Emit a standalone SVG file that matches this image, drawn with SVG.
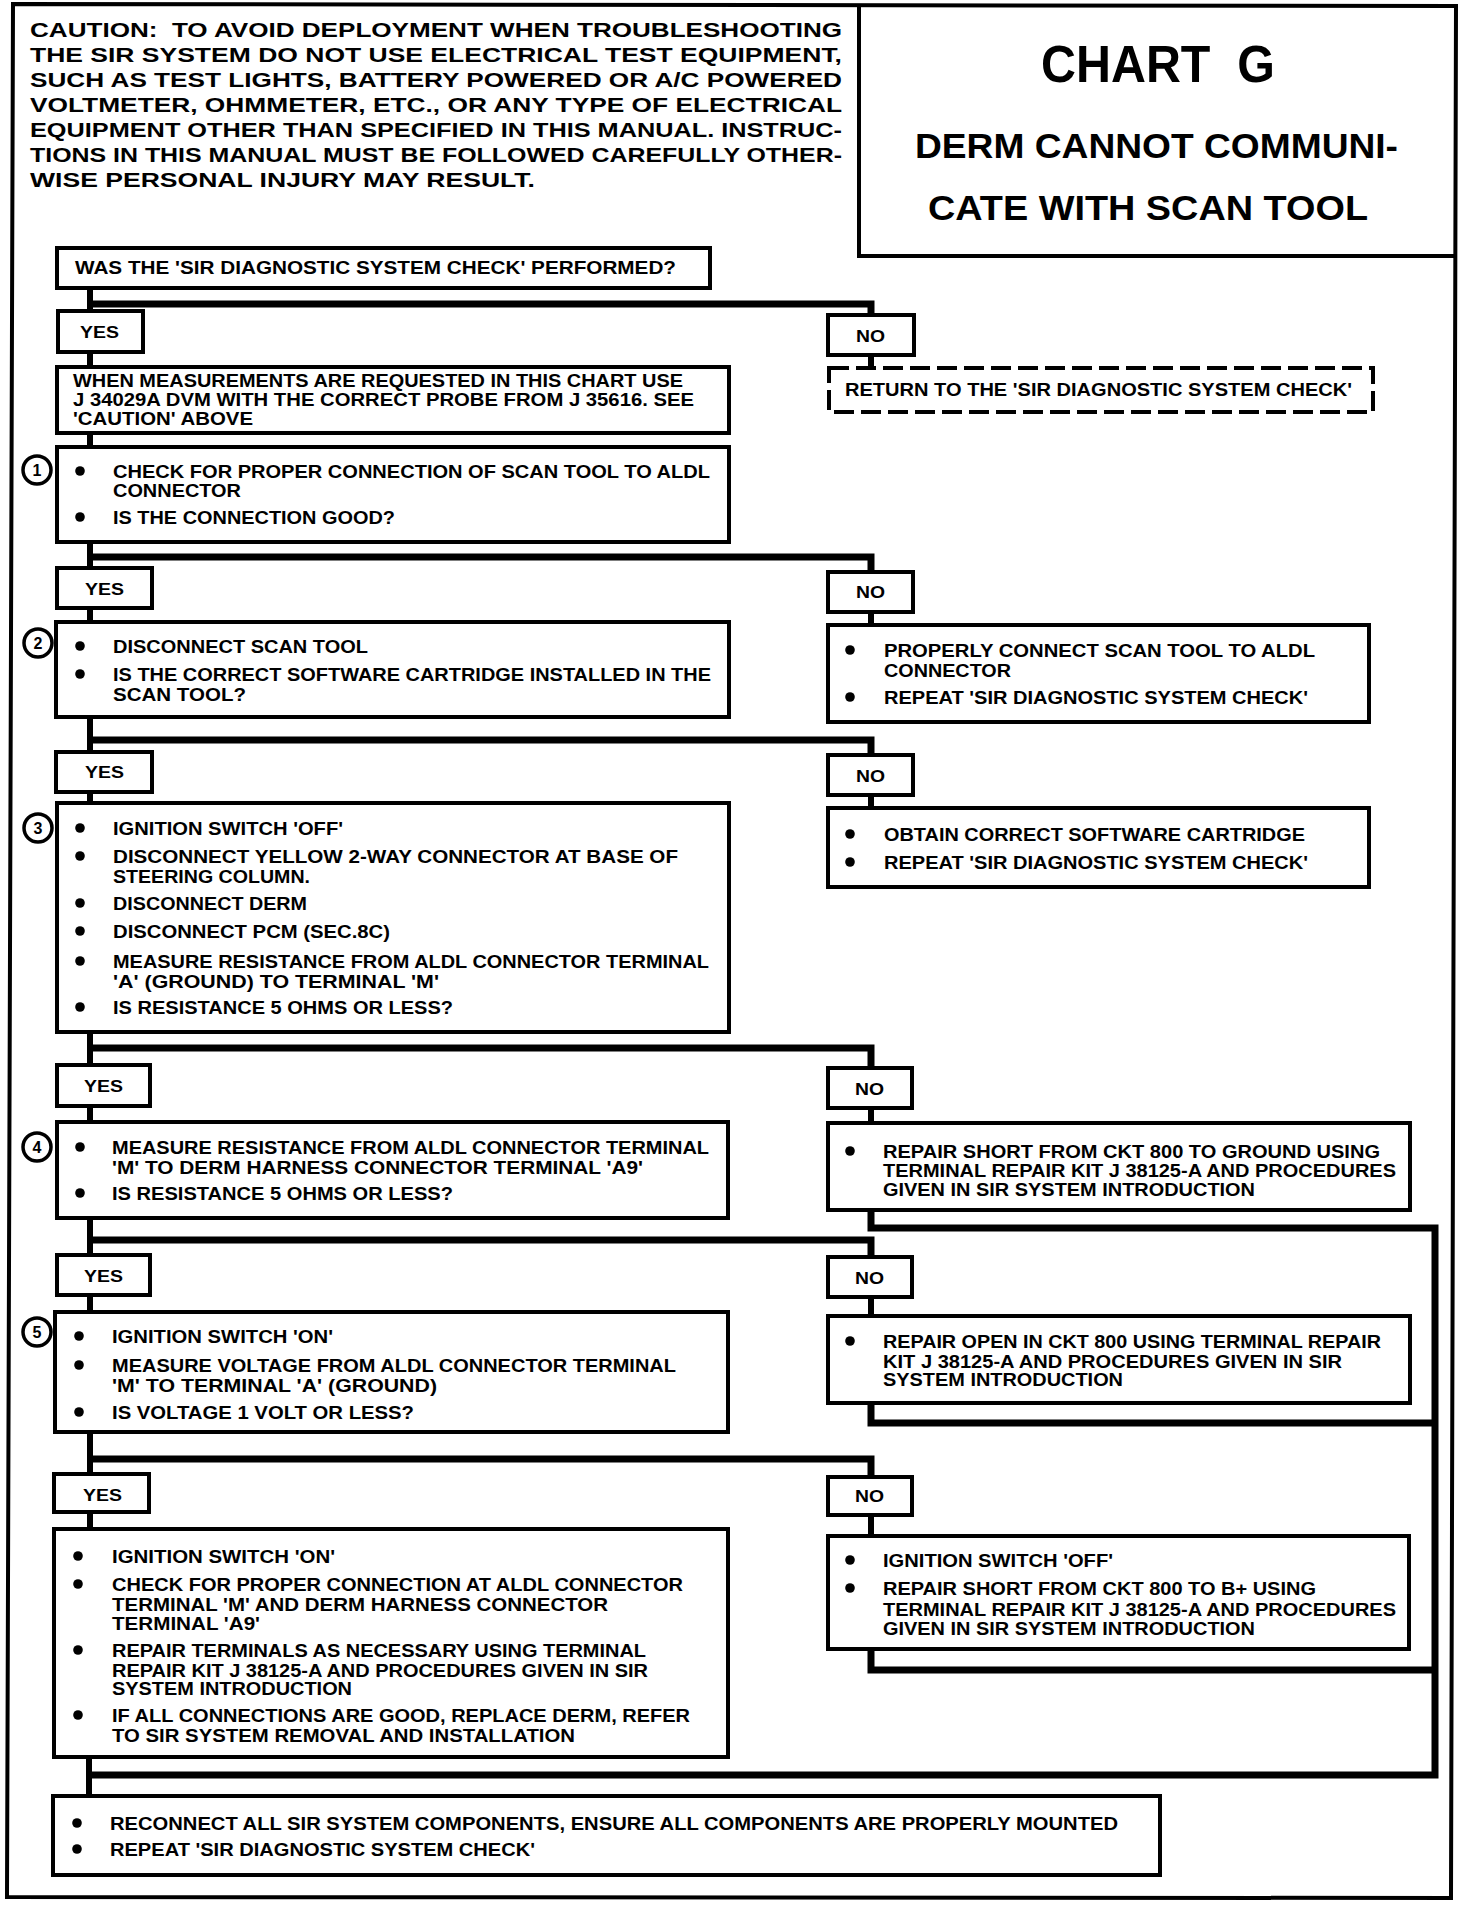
<svg xmlns="http://www.w3.org/2000/svg" width="1472" height="1906" viewBox="0 0 1472 1906">
<style>
text{font-family:"Liberation Sans",Arial,sans-serif;font-weight:bold;fill:#000}
.t{font-size:19px}
.c{font-size:20px}
.yn{font-size:17px}
.box{fill:#fff;stroke:#000;stroke-width:4}
.dash{fill:#fff;stroke:#000;stroke-width:4;stroke-dasharray:20 7}
.ln{fill:none;stroke:#000;stroke-width:7;stroke-linejoin:miter}
.v{fill:none;stroke:#000;stroke-width:6}
.num{fill:#fff;stroke:#000;stroke-width:3.5}
.nt{font-size:16px;text-anchor:middle}
</style>
<defs>
<circle id="b" r="4.8" fill="#000"/>
</defs>
<rect width="1472" height="1906" fill="#fff"/>
<g id="frame">
<path d="M13,4 L1456,6 L1451,1898 L7,1897 Z" fill="none" stroke="#000" stroke-width="4"/>
</g>
<g id="caution">
<text class="c" x="30" y="37" textLength="812" lengthAdjust="spacingAndGlyphs" xml:space="preserve">CAUTION:  TO AVOID DEPLOYMENT WHEN TROUBLESHOOTING</text>
<text class="c" x="30" y="62" textLength="812" lengthAdjust="spacingAndGlyphs">THE SIR SYSTEM DO NOT USE ELECTRICAL TEST EQUIPMENT,</text>
<text class="c" x="30" y="87" textLength="812" lengthAdjust="spacingAndGlyphs">SUCH AS TEST LIGHTS, BATTERY POWERED OR A/C POWERED</text>
<text class="c" x="30" y="112" textLength="812" lengthAdjust="spacingAndGlyphs">VOLTMETER, OHMMETER, ETC., OR ANY TYPE OF ELECTRICAL</text>
<text class="c" x="30" y="137" textLength="812" lengthAdjust="spacingAndGlyphs">EQUIPMENT OTHER THAN SPECIFIED IN THIS MANUAL. INSTRUC-</text>
<text class="c" x="30" y="162" textLength="812" lengthAdjust="spacingAndGlyphs">TIONS IN THIS MANUAL MUST BE FOLLOWED CAREFULLY OTHER-</text>
<text class="c" x="30" y="187" textLength="505" lengthAdjust="spacingAndGlyphs">WISE PERSONAL INJURY MAY RESULT.</text>
</g>
<g id="title">
<path d="M859,6 V256 H1454" fill="none" stroke="#000" stroke-width="4"/>
<text x="1041" y="82" style="font-size:52px" textLength="234" lengthAdjust="spacingAndGlyphs" xml:space="preserve">CHART  G</text>
<text x="915" y="158" style="font-size:35px" textLength="483" lengthAdjust="spacingAndGlyphs">DERM CANNOT COMMUNI-</text>
<text x="928" y="220" style="font-size:35px" textLength="440" lengthAdjust="spacingAndGlyphs">CATE WITH SCAN TOOL</text>
</g>
<g id="connectors">
<path class="v" d="M90,288 V311 M90,352 V367 M90,433 V447 M90,542 V568 M90,608 V622 M90,717 V752 M90,792 V803 M90,1032 V1065 M90,1106 V1122 M90,1218 V1255 M90,1295 V1312 M90,1432 V1474 M90,1512 V1529 M89,1757 V1796"/>
<path class="v" d="M871,355 V368 M871,612 V625 M871,795 V808 M871,1108 V1123 M871,1297 V1316 M871,1515 V1536"/>
<path class="ln" d="M87,304 H871 V315"/>
<path class="ln" d="M87,557 H871 V572"/>
<path class="ln" d="M87,740 H871 V755"/>
<path class="ln" d="M87,1048 H871 V1068"/>
<path class="ln" d="M87,1240 H871 V1257"/>
<path class="ln" d="M87,1459 H871 V1477"/>
<path class="ln" d="M871,1210 V1228 H1435 V1775 H86"/>
<path class="ln" d="M871,1403 V1423 H1435"/>
<path class="ln" d="M871,1649 V1670 H1435"/>
</g>
<g id="q0">
<rect class="box" x="57" y="248" width="653" height="40"/>
<text class="t" x="75" y="274" textLength="601" lengthAdjust="spacingAndGlyphs">WAS THE 'SIR DIAGNOSTIC SYSTEM CHECK' PERFORMED?</text>
</g>
<g id="yes0"><rect class="box" x="58" y="311" width="85" height="41"/><text class="yn" x="80" y="338" textLength="39" lengthAdjust="spacingAndGlyphs">YES</text></g>
<g id="no0"><rect class="box" x="828" y="315" width="86" height="40"/><text class="yn" x="856" y="342" textLength="29" lengthAdjust="spacingAndGlyphs">NO</text></g>
<g id="measure-note">
<rect class="box" x="57" y="367" width="672" height="66"/>
<text class="t" x="73" y="387" textLength="610" lengthAdjust="spacingAndGlyphs">WHEN MEASUREMENTS ARE REQUESTED IN THIS CHART USE</text>
<text class="t" x="73" y="406" textLength="621" lengthAdjust="spacingAndGlyphs">J 34029A DVM WITH THE CORRECT PROBE FROM J 35616. SEE</text>
<text class="t" x="73" y="425" textLength="180" lengthAdjust="spacingAndGlyphs">'CAUTION' ABOVE</text>
</g>
<g id="return0">
<rect class="dash" x="829" y="368" width="544" height="44"/>
<text class="t" x="845" y="396" textLength="507" lengthAdjust="spacingAndGlyphs">RETURN TO THE 'SIR DIAGNOSTIC SYSTEM CHECK'</text>
</g>
<g id="step1">
<rect class="box" x="57" y="447" width="672" height="95"/>
<circle class="num" cx="37" cy="470" r="14"/><text class="nt" x="37" y="476">1</text>
<use href="#b" x="80" y="471"/><use href="#b" x="80" y="517"/>
<text class="t" x="113" y="478" textLength="597" lengthAdjust="spacingAndGlyphs">CHECK FOR PROPER CONNECTION OF SCAN TOOL TO ALDL</text>
<text class="t" x="113" y="497" textLength="128" lengthAdjust="spacingAndGlyphs">CONNECTOR</text>
<text class="t" x="113" y="524" textLength="282" lengthAdjust="spacingAndGlyphs">IS THE CONNECTION GOOD?</text>
</g>
<g id="yes1"><rect class="box" x="57" y="568" width="95" height="40"/><text class="yn" x="85" y="595" textLength="39" lengthAdjust="spacingAndGlyphs">YES</text></g>
<g id="no1"><rect class="box" x="828" y="572" width="85" height="40"/><text class="yn" x="856" y="598" textLength="29" lengthAdjust="spacingAndGlyphs">NO</text></g>
<g id="step2">
<rect class="box" x="56" y="622" width="673" height="95"/>
<circle class="num" cx="38" cy="643" r="14"/><text class="nt" x="38" y="649">2</text>
<use href="#b" x="80" y="646"/><use href="#b" x="80" y="674"/>
<text class="t" x="113" y="653" textLength="255" lengthAdjust="spacingAndGlyphs">DISCONNECT SCAN TOOL</text>
<text class="t" x="113" y="681" textLength="598" lengthAdjust="spacingAndGlyphs">IS THE CORRECT SOFTWARE CARTRIDGE INSTALLED IN THE</text>
<text class="t" x="113" y="701" textLength="133" lengthAdjust="spacingAndGlyphs">SCAN TOOL?</text>
</g>
<g id="fix1">
<rect class="box" x="828" y="625" width="541" height="97"/>
<use href="#b" x="850" y="650"/><use href="#b" x="850" y="697"/>
<text class="t" x="884" y="657" textLength="431" lengthAdjust="spacingAndGlyphs">PROPERLY CONNECT SCAN TOOL TO ALDL</text>
<text class="t" x="884" y="677" textLength="127" lengthAdjust="spacingAndGlyphs">CONNECTOR</text>
<text class="t" x="884" y="704" textLength="424" lengthAdjust="spacingAndGlyphs">REPEAT 'SIR DIAGNOSTIC SYSTEM CHECK'</text>
</g>
<g id="yes2"><rect class="box" x="56" y="752" width="96" height="40"/><text class="yn" x="85" y="778" textLength="39" lengthAdjust="spacingAndGlyphs">YES</text></g>
<g id="no2"><rect class="box" x="828" y="755" width="85" height="40"/><text class="yn" x="856" y="782" textLength="29" lengthAdjust="spacingAndGlyphs">NO</text></g>
<g id="step3">
<rect class="box" x="57" y="803" width="672" height="229"/>
<circle class="num" cx="38" cy="828" r="14"/><text class="nt" x="38" y="834">3</text>
<use href="#b" x="80" y="828"/><use href="#b" x="80" y="856"/><use href="#b" x="80" y="903"/><use href="#b" x="80" y="931"/><use href="#b" x="80" y="961"/><use href="#b" x="80" y="1007"/>
<text class="t" x="113" y="835" textLength="230" lengthAdjust="spacingAndGlyphs">IGNITION SWITCH 'OFF'</text>
<text class="t" x="113" y="863" textLength="565" lengthAdjust="spacingAndGlyphs">DISCONNECT YELLOW 2-WAY CONNECTOR AT BASE OF</text>
<text class="t" x="113" y="883" textLength="197" lengthAdjust="spacingAndGlyphs">STEERING COLUMN.</text>
<text class="t" x="113" y="910" textLength="194" lengthAdjust="spacingAndGlyphs">DISCONNECT DERM</text>
<text class="t" x="113" y="938" textLength="277" lengthAdjust="spacingAndGlyphs">DISCONNECT PCM (SEC.8C)</text>
<text class="t" x="113" y="968" textLength="596" lengthAdjust="spacingAndGlyphs">MEASURE RESISTANCE FROM ALDL CONNECTOR TERMINAL</text>
<text class="t" x="113" y="988" textLength="326" lengthAdjust="spacingAndGlyphs">'A' (GROUND) TO TERMINAL 'M'</text>
<text class="t" x="113" y="1014" textLength="340" lengthAdjust="spacingAndGlyphs">IS RESISTANCE 5 OHMS OR LESS?</text>
</g>
<g id="fix2">
<rect class="box" x="828" y="808" width="541" height="79"/>
<use href="#b" x="850" y="834"/><use href="#b" x="850" y="862"/>
<text class="t" x="884" y="841" textLength="421" lengthAdjust="spacingAndGlyphs">OBTAIN CORRECT SOFTWARE CARTRIDGE</text>
<text class="t" x="884" y="869" textLength="424" lengthAdjust="spacingAndGlyphs">REPEAT 'SIR DIAGNOSTIC SYSTEM CHECK'</text>
</g>
<g id="yes3"><rect class="box" x="57" y="1065" width="93" height="41"/><text class="yn" x="84" y="1092" textLength="39" lengthAdjust="spacingAndGlyphs">YES</text></g>
<g id="no3"><rect class="box" x="828" y="1068" width="84" height="40"/><text class="yn" x="855" y="1095" textLength="29" lengthAdjust="spacingAndGlyphs">NO</text></g>
<g id="step4">
<rect class="box" x="57" y="1122" width="671" height="96"/>
<circle class="num" cx="37" cy="1147" r="14"/><text class="nt" x="37" y="1153">4</text>
<use href="#b" x="80" y="1147"/><use href="#b" x="80" y="1193"/>
<text class="t" x="112" y="1154" textLength="597" lengthAdjust="spacingAndGlyphs">MEASURE RESISTANCE FROM ALDL CONNECTOR TERMINAL</text>
<text class="t" x="112" y="1174" textLength="531" lengthAdjust="spacingAndGlyphs">'M' TO DERM HARNESS CONNECTOR TERMINAL 'A9'</text>
<text class="t" x="112" y="1200" textLength="341" lengthAdjust="spacingAndGlyphs">IS RESISTANCE 5 OHMS OR LESS?</text>
</g>
<g id="fix3">
<rect class="box" x="828" y="1123" width="582" height="87"/>
<use href="#b" x="850" y="1151"/>
<text class="t" x="883" y="1158" textLength="497" lengthAdjust="spacingAndGlyphs">REPAIR SHORT FROM CKT 800 TO GROUND USING</text>
<text class="t" x="883" y="1177" textLength="513" lengthAdjust="spacingAndGlyphs">TERMINAL REPAIR KIT J 38125-A AND PROCEDURES</text>
<text class="t" x="883" y="1196" textLength="372" lengthAdjust="spacingAndGlyphs">GIVEN IN SIR SYSTEM INTRODUCTION</text>
</g>
<g id="yes4"><rect class="box" x="57" y="1255" width="93" height="40"/><text class="yn" x="84" y="1282" textLength="39" lengthAdjust="spacingAndGlyphs">YES</text></g>
<g id="no4"><rect class="box" x="828" y="1257" width="84" height="40"/><text class="yn" x="855" y="1284" textLength="29" lengthAdjust="spacingAndGlyphs">NO</text></g>
<g id="step5">
<rect class="box" x="55" y="1312" width="673" height="120"/>
<circle class="num" cx="37" cy="1332" r="14"/><text class="nt" x="37" y="1338">5</text>
<use href="#b" x="79" y="1336"/><use href="#b" x="79" y="1365"/><use href="#b" x="79" y="1412"/>
<text class="t" x="112" y="1343" textLength="221" lengthAdjust="spacingAndGlyphs">IGNITION SWITCH 'ON'</text>
<text class="t" x="112" y="1372" textLength="564" lengthAdjust="spacingAndGlyphs">MEASURE VOLTAGE FROM ALDL CONNECTOR TERMINAL</text>
<text class="t" x="112" y="1392" textLength="325" lengthAdjust="spacingAndGlyphs">'M' TO TERMINAL 'A' (GROUND)</text>
<text class="t" x="112" y="1419" textLength="302" lengthAdjust="spacingAndGlyphs">IS VOLTAGE 1 VOLT OR LESS?</text>
</g>
<g id="fix4">
<rect class="box" x="828" y="1316" width="582" height="87"/>
<use href="#b" x="850" y="1341"/>
<text class="t" x="883" y="1348" textLength="498" lengthAdjust="spacingAndGlyphs">REPAIR OPEN IN CKT 800 USING TERMINAL REPAIR</text>
<text class="t" x="883" y="1368" textLength="459" lengthAdjust="spacingAndGlyphs">KIT J 38125-A AND PROCEDURES GIVEN IN SIR</text>
<text class="t" x="883" y="1386" textLength="240" lengthAdjust="spacingAndGlyphs">SYSTEM INTRODUCTION</text>
</g>
<g id="yes5"><rect class="box" x="54" y="1474" width="95" height="38"/><text class="yn" x="83" y="1501" textLength="39" lengthAdjust="spacingAndGlyphs">YES</text></g>
<g id="no5"><rect class="box" x="828" y="1477" width="84" height="38"/><text class="yn" x="855" y="1502" textLength="29" lengthAdjust="spacingAndGlyphs">NO</text></g>
<g id="step6">
<rect class="box" x="54" y="1529" width="674" height="228"/>
<use href="#b" x="78" y="1556"/><use href="#b" x="78" y="1584"/><use href="#b" x="78" y="1650"/><use href="#b" x="78" y="1715"/>
<text class="t" x="112" y="1563" textLength="223" lengthAdjust="spacingAndGlyphs">IGNITION SWITCH 'ON'</text>
<text class="t" x="112" y="1591" textLength="571" lengthAdjust="spacingAndGlyphs">CHECK FOR PROPER CONNECTION AT ALDL CONNECTOR</text>
<text class="t" x="112" y="1611" textLength="496" lengthAdjust="spacingAndGlyphs">TERMINAL 'M' AND DERM HARNESS CONNECTOR</text>
<text class="t" x="112" y="1630" textLength="148" lengthAdjust="spacingAndGlyphs">TERMINAL 'A9'</text>
<text class="t" x="112" y="1657" textLength="534" lengthAdjust="spacingAndGlyphs">REPAIR TERMINALS AS NECESSARY USING TERMINAL</text>
<text class="t" x="112" y="1677" textLength="536" lengthAdjust="spacingAndGlyphs">REPAIR KIT J 38125-A AND PROCEDURES GIVEN IN SIR</text>
<text class="t" x="112" y="1695" textLength="240" lengthAdjust="spacingAndGlyphs">SYSTEM INTRODUCTION</text>
<text class="t" x="112" y="1722" textLength="578" lengthAdjust="spacingAndGlyphs">IF ALL CONNECTIONS ARE GOOD, REPLACE DERM, REFER</text>
<text class="t" x="112" y="1742" textLength="463" lengthAdjust="spacingAndGlyphs">TO SIR SYSTEM REMOVAL AND INSTALLATION</text>
</g>
<g id="fix5">
<rect class="box" x="828" y="1536" width="581" height="113"/>
<use href="#b" x="850" y="1560"/><use href="#b" x="850" y="1588"/>
<text class="t" x="883" y="1567" textLength="230" lengthAdjust="spacingAndGlyphs">IGNITION SWITCH 'OFF'</text>
<text class="t" x="883" y="1595" textLength="433" lengthAdjust="spacingAndGlyphs">REPAIR SHORT FROM CKT 800 TO B+ USING</text>
<text class="t" x="883" y="1616" textLength="513" lengthAdjust="spacingAndGlyphs">TERMINAL REPAIR KIT J 38125-A AND PROCEDURES</text>
<text class="t" x="883" y="1635" textLength="372" lengthAdjust="spacingAndGlyphs">GIVEN IN SIR SYSTEM INTRODUCTION</text>
</g>
<g id="final">
<rect class="box" x="53" y="1796" width="1107" height="79"/>
<use href="#b" x="77" y="1823"/><use href="#b" x="77" y="1849"/>
<text class="t" x="110" y="1830" textLength="1008" lengthAdjust="spacingAndGlyphs">RECONNECT ALL SIR SYSTEM COMPONENTS, ENSURE ALL COMPONENTS ARE PROPERLY MOUNTED</text>
<text class="t" x="110" y="1856" textLength="425" lengthAdjust="spacingAndGlyphs">REPEAT 'SIR DIAGNOSTIC SYSTEM CHECK'</text>
</g>
</svg>
